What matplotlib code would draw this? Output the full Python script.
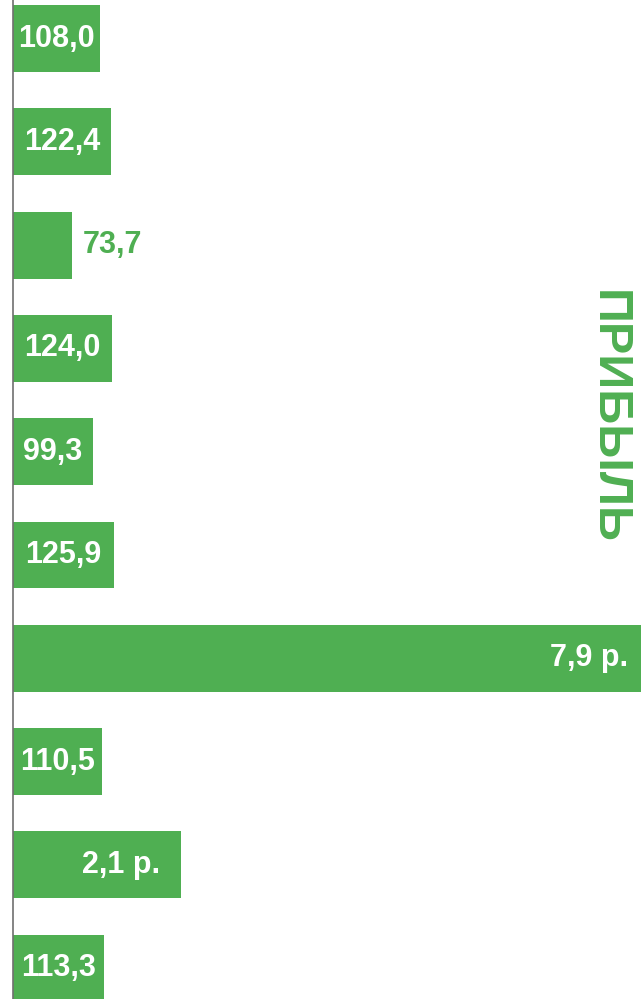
import matplotlib.pyplot as plt

# значения (длина столбца в единицах шкалы) и подписи
values = [108.0, 122.4, 73.7, 124.0, 99.3, 125.9, 790.0, 110.5, 210.0, 113.3]
labels = ['108,0', '122,4', '73,7', '124,0', '99,3', '125,9', '7,9 р.', '110,5', '2,1 р.', '113,3']
title = 'ПРИБЫЛЬ'

green = '#4FAF52'

plt.rcParams['font.family'] = ['Liberation Sans', 'DejaVu Sans']

fig = plt.figure(figsize=(6.41, 9.99), dpi=100)
ax = fig.add_axes([0, 0, 1, 1])

pos = list(range(len(values)))
ax.barh(pos, values, height=0.648, color=green, zorder=2)
ax.axvline(0, color='#707070', lw=1.2, zorder=3)

xmin, xmax = -16.2, 783.0
ax.set_xlim(xmin, xmax)
ax.set_ylim(9.298, -0.373)

for p, v, lab in zip(pos, values, labels):
    kw = dict(va='center', fontsize=22, fontweight='bold', zorder=4)
    if v < 90:
        # короткий столбец: подпись снаружи
        ax.annotate(lab, (v, p), xytext=(8, 0), textcoords='offset points',
                    ha='left', color=green, **kw)
    elif lab.endswith('р.'):
        pad = -9 if v > xmax else -15
        ax.annotate(lab, (min(v, xmax), p), xytext=(pad, 0), textcoords='offset points',
                    ha='right', color='white', **kw)
    else:
        ax.annotate(lab, (v / 2, p), xytext=(0, 0), textcoords='offset points',
                    ha='center', color='white', **kw)

fig.text(0.949, 0.583, title, rotation=-90, ha='center', va='center',
         fontsize=35, fontweight='bold', color=green)

ax.axis('off')
plt.savefig('out.png', dpi=100)
